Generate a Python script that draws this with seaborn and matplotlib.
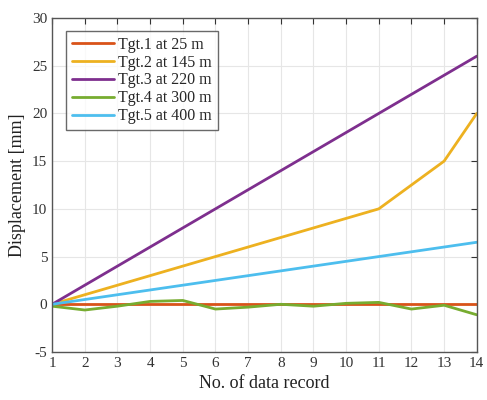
import numpy as np
import pandas as pd
import matplotlib
matplotlib.use("Agg")
import matplotlib.pyplot as plt
import seaborn as sns

records = list(range(1, 15))
tgt1 = [0]*14
tgt2 = [0, 1, 2, 3, 4, 5, 6, 7, 8, 9, 10, 12.5, 15, 20]
tgt3 = [0, 2, 4, 6, 8, 10, 12, 14, 16, 18, 20, 22, 24, 26]
tgt4 = [-0.2, -0.6, -0.2, 0.3, 0.4, -0.5, -0.3, 0.0, -0.2, 0.1, 0.2, -0.5, -0.1, -1.1]
tgt5 = [0, 0.5, 1, 1.5, 2, 2.5, 3, 3.5, 4, 4.5, 5, 5.5, 6, 6.5]
labels = ["Tgt.1 at 25 m", "Tgt.2 at 145 m", "Tgt.3 at 220 m", "Tgt.4 at 300 m", "Tgt.5 at 400 m"]
colors = ["#D95319", "#EDB120", "#7E2F8E", "#77AC30", "#4DBEEE"]

rows = []
for lab, ser in zip(labels, [tgt1, tgt2, tgt3, tgt4, tgt5]):
    for x, v in zip(records, ser):
        rows.append({"rec": x, "disp": v, "target": lab})
df = pd.DataFrame(rows)

sns.set_style("white")
plt.rcParams['font.family'] = ['Liberation Serif', 'DejaVu Serif']
plt.rcParams['axes.unicode_minus'] = False
fig = plt.figure(figsize=(4.87, 4.0), dpi=100)
ax = fig.add_axes([0.107, 0.12, 0.872, 0.835])
sns.lineplot(data=df, x="rec", y="disp", hue="target", palette=colors,
             hue_order=labels, linewidth=2, ax=ax, legend=True)
ax.set_xlim(1, 14)
ax.set_ylim(-5, 30)
ax.set_xticks(records)
ax.set_yticks(range(-5, 31, 5))
ax.grid(True, color="#e6e6e6", linewidth=0.8)
ax.tick_params(direction="in", top=True, right=True, labelsize=11, colors="#333333", length=4)
for s in ax.spines.values():
    s.set_color("#555555")
    s.set_linewidth(1.0)
ax.set_xlabel("No. of data record", fontsize=13, color="#222222")
ax.set_ylabel("Displacement [mm]", fontsize=13, color="#222222")
leg = ax.legend(loc="upper left", bbox_to_anchor=(0.015, 0.985), fontsize=11.5, frameon=True,
                fancybox=False, edgecolor="#444444", handlelength=2.6, borderpad=0.35,
                labelspacing=0.12, handletextpad=0.3)
leg.get_frame().set_linewidth(1.0)
fig.savefig("out.png", dpi=100)
